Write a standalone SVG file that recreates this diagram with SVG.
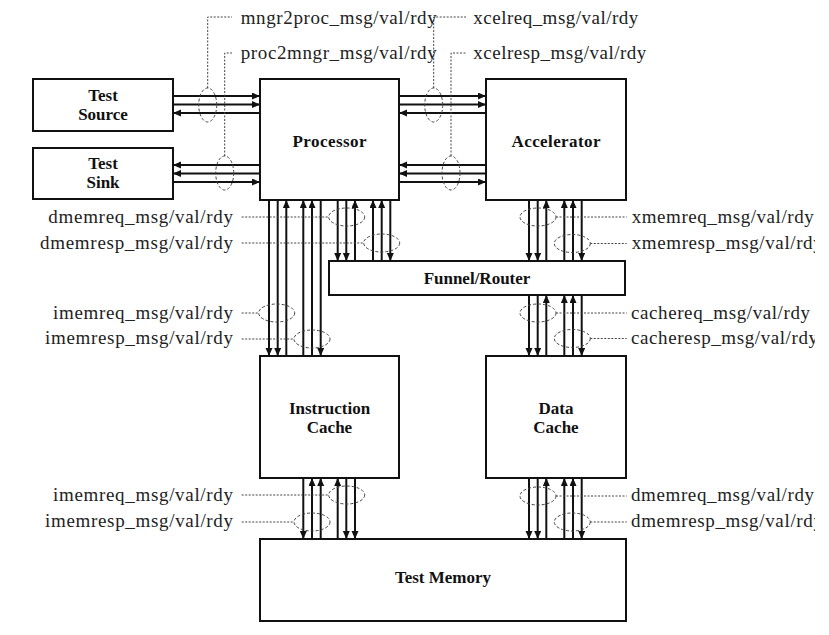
<svg xmlns="http://www.w3.org/2000/svg" width="829" height="635" viewBox="0 0 829 635">
<style>
.box{fill:#fff;stroke:#111;stroke-width:2}
.nl{font-family:"Liberation Serif","Times New Roman",serif;font-weight:bold;font-size:17px;fill:#111;text-anchor:middle}
.lb{font-family:"Liberation Serif","Times New Roman",serif;font-size:19px;fill:#222}
.le{text-anchor:end}
.ar{stroke:#111;stroke-width:2;fill:none}
.ad{marker-end:url(#ah)}
.ld{stroke:#444;stroke-width:1;fill:none;stroke-dasharray:2 1.5}
.el{stroke:#444;stroke-width:1;fill:none;stroke-dasharray:3 2}
</style>
<defs>
<marker id="ah" markerUnits="userSpaceOnUse" markerWidth="9" markerHeight="8" refX="8" refY="3.5" orient="auto">
<path d="M0,0 L8,3.5 L0,7 z" fill="#111"/>
</marker>
<clipPath id="cl"><rect x="0" y="0" width="815" height="635"/></clipPath>
</defs>
<rect width="829" height="635" fill="#fff"/>

<g id="test-source"><rect class="box" x="33" y="79" width="140" height="52"/><text class="nl" x="103" y="100.5">Test</text><text class="nl" x="103" y="119.5">Source</text></g>
<g id="test-sink"><rect class="box" x="33" y="148" width="140" height="51"/><text class="nl" x="103" y="169">Test</text><text class="nl" x="103" y="188">Sink</text></g>
<g id="processor"><rect class="box" x="260" y="79" width="139" height="121"/><text class="nl" x="329.5" y="147" textLength="74" lengthAdjust="spacing">Processor</text></g>
<g id="accelerator"><rect class="box" x="486" y="79" width="140" height="121"/><text class="nl" x="556" y="147" textLength="89" lengthAdjust="spacing">Accelerator</text></g>
<g id="funnel-router"><rect class="box" x="329" y="261" width="296" height="34"/><text class="nl" x="477" y="284">Funnel/Router</text></g>
<g id="instruction-cache"><rect class="box" x="260" y="356" width="139" height="122"/><text class="nl" x="329.5" y="413.5">Instruction</text><text class="nl" x="329.5" y="432.5">Cache</text></g>
<g id="data-cache"><rect class="box" x="486" y="356" width="140" height="122"/><text class="nl" x="556" y="413.5">Data</text><text class="nl" x="556" y="432.5">Cache</text></g>
<g id="test-memory"><rect class="box" x="260" y="539" width="366" height="82"/><text class="nl" x="443" y="583">Test Memory</text></g>

<g id="connectors">
<!-- horizontal -->
<line class="ar ad" x1="173" y1="96" x2="260" y2="96"/>
<line class="ar ad" x1="173" y1="104.5" x2="260" y2="104.5"/>
<line class="ar ad" x1="260" y1="113" x2="173" y2="113"/>
<line class="ar ad" x1="260" y1="165" x2="173" y2="165"/>
<line class="ar ad" x1="260" y1="173.5" x2="173" y2="173.5"/>
<line class="ar ad" x1="173" y1="182" x2="260" y2="182"/>
<line class="ar ad" x1="399" y1="96" x2="486" y2="96"/>
<line class="ar ad" x1="399" y1="104.5" x2="486" y2="104.5"/>
<line class="ar ad" x1="486" y1="113" x2="399" y2="113"/>
<line class="ar ad" x1="486" y1="165" x2="399" y2="165"/>
<line class="ar ad" x1="486" y1="173.5" x2="399" y2="173.5"/>
<line class="ar ad" x1="399" y1="182" x2="486" y2="182"/>
<!-- processor to icache -->
<line class="ar ad" x1="269" y1="200" x2="269" y2="356"/>
<line class="ar ad" x1="277.7" y1="200" x2="277.7" y2="356"/>
<line class="ar ad" x1="286.3" y1="356" x2="286.3" y2="200"/>
<line class="ar ad" x1="303.3" y1="356" x2="303.3" y2="200"/>
<line class="ar ad" x1="312" y1="356" x2="312" y2="200"/>
<line class="ar ad" x1="320.7" y1="200" x2="320.7" y2="356"/>
<!-- processor to funnel -->
<line class="ar ad" x1="337.7" y1="200" x2="337.7" y2="261"/>
<line class="ar ad" x1="346.3" y1="200" x2="346.3" y2="261"/>
<line class="ar ad" x1="355" y1="261" x2="355" y2="200"/>
<line class="ar ad" x1="373" y1="261" x2="373" y2="200"/>
<line class="ar ad" x1="381.7" y1="261" x2="381.7" y2="200"/>
<line class="ar ad" x1="390.3" y1="200" x2="390.3" y2="261"/>
<!-- accelerator to funnel -->
<line class="ar ad" x1="529" y1="200" x2="529" y2="261"/>
<line class="ar ad" x1="537.7" y1="200" x2="537.7" y2="261"/>
<line class="ar ad" x1="546.3" y1="261" x2="546.3" y2="200"/>
<line class="ar ad" x1="564.3" y1="261" x2="564.3" y2="200"/>
<line class="ar ad" x1="573" y1="261" x2="573" y2="200"/>
<line class="ar ad" x1="581.7" y1="200" x2="581.7" y2="261"/>
<!-- funnel to dcache -->
<line class="ar ad" x1="529" y1="295" x2="529" y2="356"/>
<line class="ar ad" x1="537.7" y1="295" x2="537.7" y2="356"/>
<line class="ar ad" x1="546.3" y1="356" x2="546.3" y2="295"/>
<line class="ar ad" x1="564.3" y1="356" x2="564.3" y2="295"/>
<line class="ar ad" x1="573" y1="356" x2="573" y2="295"/>
<line class="ar ad" x1="581.7" y1="295" x2="581.7" y2="356"/>
<!-- icache to memory -->
<line class="ar ad" x1="303.3" y1="478" x2="303.3" y2="539"/>
<line class="ar ad" x1="312" y1="539" x2="312" y2="478"/>
<line class="ar ad" x1="320.7" y1="539" x2="320.7" y2="478"/>
<line class="ar ad" x1="337.7" y1="539" x2="337.7" y2="478"/>
<line class="ar ad" x1="346.3" y1="478" x2="346.3" y2="539"/>
<line class="ar ad" x1="355" y1="478" x2="355" y2="539"/>
<!-- dcache to memory -->
<line class="ar ad" x1="529" y1="478" x2="529" y2="539"/>
<line class="ar ad" x1="537.7" y1="478" x2="537.7" y2="539"/>
<line class="ar ad" x1="546.3" y1="539" x2="546.3" y2="478"/>
<line class="ar ad" x1="564.3" y1="539" x2="564.3" y2="478"/>
<line class="ar ad" x1="573" y1="539" x2="573" y2="478"/>
<line class="ar ad" x1="581.7" y1="478" x2="581.7" y2="539"/>

<!-- bundle ellipses -->
<ellipse class="el" cx="207.7" cy="105" rx="9" ry="17"/>
<ellipse class="el" cx="224.7" cy="173" rx="9" ry="17"/>
<ellipse class="el" cx="433.7" cy="105" rx="9" ry="17"/>
<ellipse class="el" cx="451" cy="173" rx="9" ry="17"/>
<ellipse class="el" cx="346.7" cy="217" rx="18" ry="9"/>
<ellipse class="el" cx="381.7" cy="243" rx="18" ry="9"/>
<ellipse class="el" cx="538" cy="217" rx="18" ry="9"/>
<ellipse class="el" cx="572.3" cy="243.5" rx="18" ry="9"/>
<ellipse class="el" cx="276.7" cy="313" rx="18" ry="9"/>
<ellipse class="el" cx="312" cy="339" rx="18" ry="9"/>
<ellipse class="el" cx="538" cy="313" rx="18" ry="9"/>
<ellipse class="el" cx="572.3" cy="338.5" rx="18" ry="9"/>
<ellipse class="el" cx="346.7" cy="495" rx="18" ry="9"/>
<ellipse class="el" cx="312" cy="522" rx="18" ry="9"/>
<ellipse class="el" cx="538" cy="496" rx="18" ry="9"/>
<ellipse class="el" cx="572.3" cy="522" rx="18" ry="9"/>

<!-- leaders -->
<polyline class="ld" points="207.7,88 207.7,17 232,17"/>
<polyline class="ld" points="224.7,156 224.7,53 232,53"/>
<polyline class="ld" points="433.7,88 433.7,17 466,17"/>
<polyline class="ld" points="451,156 451,53 466,53"/>
<line class="ld" x1="241.7" y1="217" x2="328.7" y2="217"/>
<line class="ld" x1="241.7" y1="243" x2="363.7" y2="243"/>
<line class="ld" x1="241.7" y1="313" x2="258.7" y2="313"/>
<line class="ld" x1="241.7" y1="339" x2="294" y2="339"/>
<line class="ld" x1="241.7" y1="495" x2="328.7" y2="495"/>
<line class="ld" x1="241.7" y1="522" x2="294" y2="522"/>
<line class="ld" x1="556" y1="217" x2="626.7" y2="217"/>
<line class="ld" x1="590.3" y1="243.5" x2="626.7" y2="243.5"/>
<line class="ld" x1="556" y1="313" x2="626.7" y2="313"/>
<line class="ld" x1="590.3" y1="338.5" x2="626.7" y2="338.5"/>
<line class="ld" x1="556" y1="496" x2="626.7" y2="496"/>
<line class="ld" x1="590.3" y1="522" x2="626.7" y2="522"/>

<!-- labels -->
<text class="lb" x="240.7" y="23.5" textLength="196" lengthAdjust="spacing">mngr2proc_msg/val/rdy</text>
<text class="lb" x="240.7" y="58.5" textLength="196" lengthAdjust="spacing">proc2mngr_msg/val/rdy</text>
<text class="lb" x="473.3" y="23.5" textLength="165" lengthAdjust="spacing">xcelreq_msg/val/rdy</text>
<text class="lb" x="473.3" y="58.5" textLength="173" lengthAdjust="spacing">xcelresp_msg/val/rdy</text>
<text class="lb le" x="233" y="222.5" textLength="184.7" lengthAdjust="spacing">dmemreq_msg/val/rdy</text>
<text class="lb le" x="233" y="248.5" textLength="193" lengthAdjust="spacing">dmemresp_msg/val/rdy</text>
<text class="lb le" x="233" y="318.5" textLength="180" lengthAdjust="spacing">imemreq_msg/val/rdy</text>
<text class="lb le" x="233" y="344" textLength="188" lengthAdjust="spacing">imemresp_msg/val/rdy</text>
<text class="lb le" x="233" y="500.5" textLength="180" lengthAdjust="spacing">imemreq_msg/val/rdy</text>
<text class="lb le" x="233" y="527" textLength="188" lengthAdjust="spacing">imemresp_msg/val/rdy</text>
<g clip-path="url(#cl)">
<text class="lb" x="631.7" y="222.5" textLength="182" lengthAdjust="spacing">xmemreq_msg/val/rdy</text>
<text class="lb" x="631.7" y="248.5" textLength="191" lengthAdjust="spacing">xmemresp_msg/val/rdy</text>
<text class="lb" x="631" y="318.5" textLength="179" lengthAdjust="spacing">cachereq_msg/val/rdy</text>
<text class="lb" x="631" y="343.5" textLength="187" lengthAdjust="spacing">cacheresp_msg/val/rdy</text>
<text class="lb" x="631" y="501" textLength="183" lengthAdjust="spacing">dmemreq_msg/val/rdy</text>
<text class="lb" x="631" y="527" textLength="192" lengthAdjust="spacing">dmemresp_msg/val/rdy</text>
</g>
</g>
</svg>
